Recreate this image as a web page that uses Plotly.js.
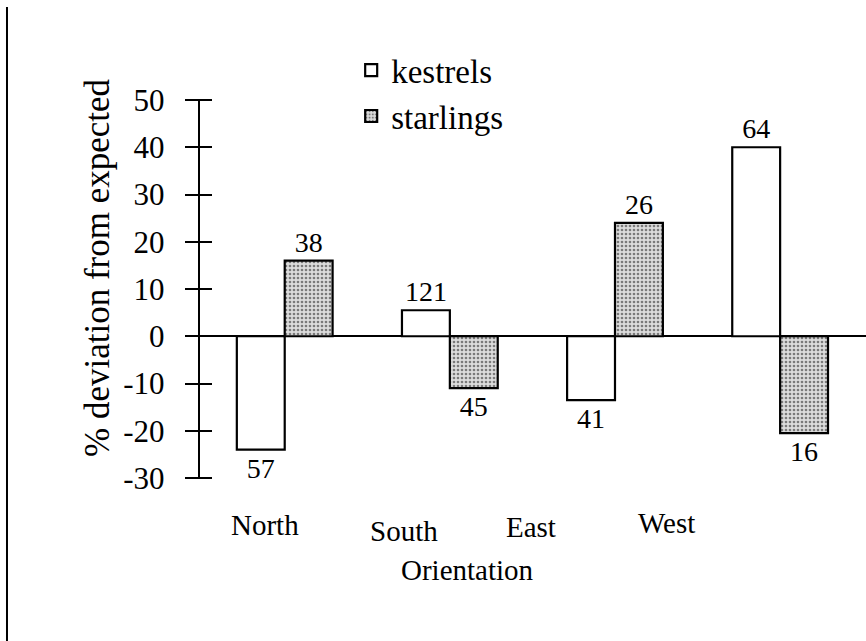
<!DOCTYPE html>
<html>
<head>
<meta charset="utf-8">
<script src="https://cdn.plot.ly/plotly-3.0.1.min.js"></script>
<style>html,body{margin:0;padding:0;background:#fff;}#chart{width:866px;height:641px;}</style>
</head>
<body>
<div id="chart"></div>
<script>
// Data
var categories = ["North", "South", "East", "West"];
var kestrels = [-24, 5.5, -13.5, 40];
var starlings = [16, -11, 24, -20.5];
var kestrelCounts = ["57", "121", "41", "64"];
var starlingCounts = ["38", "45", "26", "16"];
var seriesNames = ["kestrels", "starlings"];
var yTicks = [-30, -20, -10, 0, 10, 20, 30, 40, 50];

var FONT = "Liberation Serif, Times New Roman, serif";

var X_RANGE = [-0.513, 3.52];
// category label placement (offset from category index; vertical in paper units)
var labelOffsets = [-0.12, -0.28, -0.51, -0.69];
var labelYPaper = [-0.124, -0.140, -0.130, -0.118];

var traces = [
  {
    type: "bar", name: seriesNames[0], x: categories, y: kestrels,
    text: kestrelCounts, textposition: "outside", constraintext: "none",
    cliponaxis: false,
    textfont: {family: FONT, size: 28, color: "#000"},
    marker: {color: "#ffffff", line: {color: "#000", width: 2.2}},
    hoverinfo: "skip"
  },
  {
    type: "bar", name: seriesNames[1], x: categories, y: starlings,
    text: starlingCounts, textposition: "outside", constraintext: "none",
    cliponaxis: false,
    textfont: {family: FONT, size: 28, color: "#000"},
    marker: {color: "#d4d4d4", line: {color: "#000", width: 2.2},
             pattern: {shape: ".", fgcolor: "#7a7a7a", bgcolor: "#dcdcdc", size: 4, solidity: 0.35}},
    hoverinfo: "skip"
  },
  // invisible companion trace so the crossing-tick axis (y2) gets drawn
  {type: "scatter", x: categories, y: kestrels, yaxis: "y2", mode: "none",
   showlegend: false, hoverinfo: "skip"}
];

var annotations = categories.map(function (c, i) {
  var xp = (i + labelOffsets[i] - X_RANGE[0]) / (X_RANGE[1] - X_RANGE[0]);
  return {
    xref: "paper", yref: "paper", x: xp, y: labelYPaper[i],
    text: c, showarrow: false,
    font: {family: FONT, size: 29, color: "#000"},
    xanchor: "center", yanchor: "middle"
  };
});
annotations.push({
  xref: "paper", yref: "paper", x: 0.402, y: -0.243,
  text: "Orientation", showarrow: false,
  font: {family: FONT, size: 29, color: "#000"},
  xanchor: "center", yanchor: "middle"
});
annotations.push({
  xref: "paper", yref: "paper", x: -0.153, y: 0.556,
  text: "% deviation from expected", showarrow: false, textangle: -90,
  font: {family: FONT, size: 35, color: "#000"},
  xanchor: "center", yanchor: "middle"
});

var layout = {
  width: 866, height: 641,
  margin: {l: 200, r: 0, t: 100, b: 163},
  paper_bgcolor: "#fff", plot_bgcolor: "rgba(0,0,0,0)",
  font: {family: FONT, color: "#000"},
  barmode: "group", bargap: 0.42, bargroupgap: 0,
  showlegend: true,
  legend: {
    x: 0.227, y: 1.153, xanchor: "left", yanchor: "top",
    font: {family: FONT, size: 33, color: "#000"},
    bgcolor: "rgba(0,0,0,0)", tracegroupgap: 0
  },
  xaxis: {
    type: "category", range: X_RANGE, domain: [0, 1],
    showticklabels: false, ticks: "", showgrid: false, showline: false, zeroline: false,
    fixedrange: true
  },
  yaxis: {
    range: [-30, 50], tickvals: yTicks, ticktext: yTicks.map(String),
    ticks: "outside", ticklen: 13, tickwidth: 2, tickcolor: "#000",
    ticklabelstandoff: 14,
    showline: true, linewidth: 2.2, linecolor: "#000",
    showgrid: false, zeroline: true, zerolinecolor: "#000", zerolinewidth: 2.2,
    tickfont: {family: FONT, size: 31, color: "#000"},
    fixedrange: true
  },
  yaxis2: {
    overlaying: "y", side: "left", anchor: "free", position: 0.018, range: [-30, 50],
    tickmode: "array", tickvals: yTicks,
    ticks: "outside", ticklen: 25, tickwidth: 2, tickcolor: "#000",
    showticklabels: false, showline: false, showgrid: false, zeroline: false,
    fixedrange: true
  },
  annotations: annotations,
  shapes: [{
    type: "line", xref: "paper", yref: "paper",
    x0: -0.2898, x1: -0.2898, y0: 1.246, y1: -0.431,
    line: {color: "#000", width: 2}
  }]
};

Plotly.newPlot("chart", traces, layout, {staticPlot: true, displayModeBar: false});
</script>
</body>
</html>
